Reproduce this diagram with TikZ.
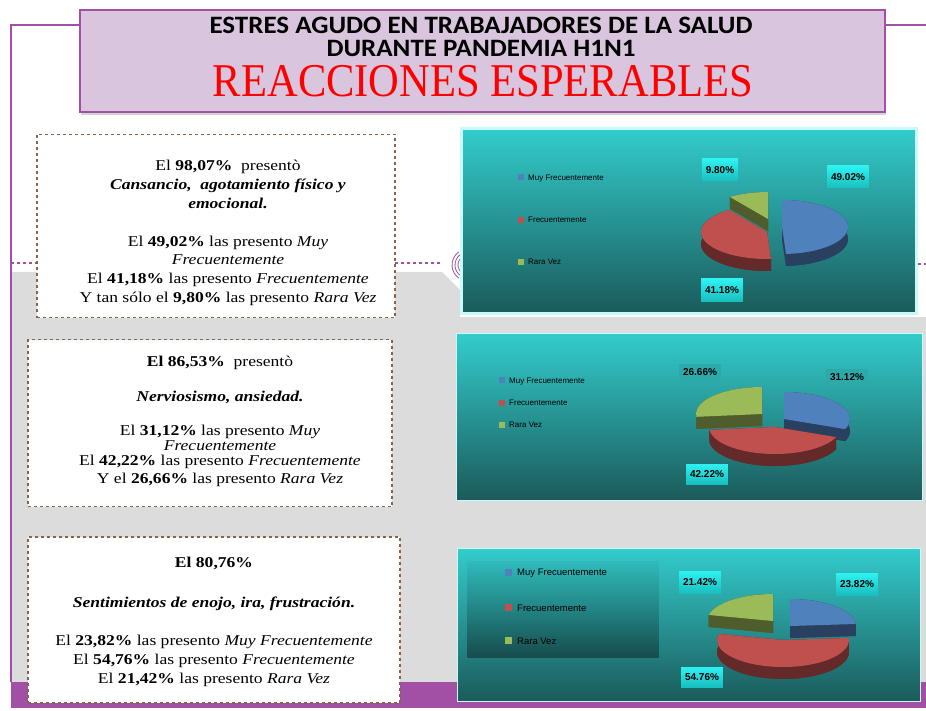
\documentclass[tikz,border=0pt]{standalone}
\usepackage{fontspec}
\setmainfont[FakeStretch=1.17]{Liberation Serif}
\newfontfamily\calibri[FakeStretch=1.08]{Carlito}
\newfontfamily\arial{Liberation Sans}
\newfontfamily\titulofont[FakeStretch=0.905]{Liberation Serif}
\usetikzlibrary{shapes,arrows,positioning,shadows}

\definecolor{morado}{HTML}{A24FA6}
\definecolor{lila}{HTML}{D9C5DD}
\definecolor{cafe}{HTML}{8A6446}
\definecolor{gris}{HTML}{DCDCDC}
\definecolor{turq}{HTML}{33CCCC}
\definecolor{turqosc}{HTML}{1B5A5A}
\definecolor{cianclaro}{HTML}{C8FAFA}
\definecolor{etiq}{HTML}{2EF2F2}
\definecolor{azul}{HTML}{4F81BD}
\definecolor{azulosc}{HTML}{2A4061}
\definecolor{rojo}{HTML}{C0504D}
\definecolor{rojoosc}{HTML}{642929}
\definecolor{verde}{HTML}{9BBB59}
\definecolor{verdeosc}{HTML}{4E5D2B}

\begin{document}
\begin{tikzpicture}[x=1pt,y=1pt]
	\tikzstyle{every node}=[font=\fontsize{15}{19}\selectfont]
	\tikzstyle{titlebox}=[draw=morado, line width=2pt, fill=lila, minimum width=805pt, minimum height=102pt, drop shadow={opacity=0.35, shadow xshift=1pt, shadow yshift=-3pt}]
	\tikzstyle{caja}=[draw=cafe, dashed, line width=1.2pt, fill=white]
	\tikzstyle{grafico}=[draw=cianclaro, line width=2pt, top color=turq, bottom color=turqosc, inner sep=0pt]
	\tikzstyle{leyenda}=[anchor=west, font=\arial\fontsize{8}{8}\selectfont, inner sep=0pt]
	\tikzstyle{etiqueta}=[top color=etiq, bottom color=etiq!55!teal, font=\arial\bfseries\fontsize{10}{10}\selectfont, minimum height=22pt, inner xsep=4pt]

	\useasboundingbox (0,0) rectangle (926,-711);
	% gray zone and the purple band down, that is the background of the slide
	\fill[gris] (12,-272) -- (442,-272) -- (460,-290) -- (460,-317) -- (926,-317) -- (926,-682) -- (12,-682) -- cycle;
	\fill[morado] (11,-682) rectangle (926,-708);
	\draw[morado, line width=2pt] (80,-25) -- (11,-25) -- (11,-682);
	\draw[morado, line width=2pt] (885,-25) -- (926,-25);
	\draw[morado, dashed, line width=1.5pt] (11,-263) -- (37,-263);
	\draw[morado, dashed, line width=1.5pt] (395,-263) -- (442,-263);
	\draw[morado, dashed, line width=1.5pt] (918,-264) -- (926,-264);
	\foreach \r in {10,13,16}
		\draw[morado, line width=0.8pt] (468,-265) ++(125:\r) arc[start angle=125, end angle=235, radius=\r pt];

	% title
	\node[titlebox] (titulo) at (482,-61) {};
	\node[font=\calibri\bfseries\fontsize{25}{25}\selectfont, anchor=base, text depth=0pt] (linea1) at (481,-34) {ESTRES AGUDO EN TRABAJADORES DE LA SALUD};
	\node[font=\calibri\bfseries\fontsize{25}{25}\selectfont, anchor=base, inner sep=1pt, text depth=0pt] (linea2) at (481,-57) {DURANTE PANDEMIA H1N1};
	\node[font=\titulofont\fontsize{47}{47}\selectfont, text=red, anchor=base, inner sep=0pt, text height=32pt] (reacciones) at (483,-97) {REACCIONES ESPERABLES};

	% the three boxes of text, dashed ones
	\node[caja, minimum width=358pt, minimum height=183pt] (caja1) at (216,-226) {};
	\node[align=center, xshift=12pt, yshift=-7pt] (texto1) at (caja1) {El \textbf{98,07\%}\ \ presentò\\
		\textbf{\textit{Cansancio,\ \ agotamiento físico y}}\\
		\textbf{\textit{emocional.}}\\[19pt]
		El \textbf{49,02\%} las presento \textit{Muy}\\[-1pt]
		\textit{Frecuentemente}\\
		El \textbf{41,18\%} las presento \textit{Frecuentemente}\\
		Y tan sólo el \textbf{9,80\%} las presento \textit{Rara Vez}};

	\node[caja, minimum width=364pt, minimum height=167pt] (caja2) at (210,-423) {};
	\node[align=center, xshift=10pt, yshift=2pt] (texto2) at (caja2) {\textbf{El 86,53\%}\ \ presentò\\[16pt]
		\textbf{\textit{Nerviosismo, ansiedad.}}\\[15pt]
		El \textbf{31,12\%} las presento \textit{Muy}\\[-4pt]
		\textit{Frecuentemente}\\[-4pt]
		El \textbf{42,22\%} las presento \textit{Frecuentemente}\\[-1pt]
		Y el \textbf{26,66\%} las presento \textit{Rara Vez}};

	\node[caja, minimum width=372pt, minimum height=166pt] (caja3) at (214,-620) {};
	\node[align=center, yshift=-2pt] (texto3) at (caja3) {\textbf{El 80,76\%}\\[21pt]
		\textbf{\textit{Sentimientos de enojo, ira, frustración.}}\\[19pt]
		El \textbf{23,82\%} las presento \textit{Muy Frecuentemente}\\
		El \textbf{54,76\%} las presento \textit{Frecuentemente}\\
		El \textbf{21,42\%} las presento \textit{Rara Vez}};

	% charts, the background with gradient
	\node[grafico, line width=3pt, minimum width=455pt, minimum height=185pt] (graf1) at (689,-221) {};
	\node[grafico, line width=1pt, minimum width=466pt, minimum height=167pt] (graf2) at (689,-417) {};
	\node[grafico, line width=1pt, minimum width=463pt, minimum height=153pt] (graf3) at (689,-625) {};
	\node[top color=turq!85!turqosc, bottom color=turqosc!85!black, minimum width=191pt, minimum height=96pt] (cuadro3) at (563,-609) {};

	% pie slices: center x / center y / start angle / end angle / top colour / side colour
	\foreach \cx/\cy/\ini/\fin/\cara/\lado in {
		768/219/90/125.3/verde/verdeosc, 782/227/-86.5/90/azul/azulosc, 767/232/125.3/273.5/rojo/rojoosc,
		762/414/90/186/verde/verdeosc, 784/419/-22/90/azul/azulosc, 775/427/186/338/rojo/rojoosc,
		773/621/90/167.1/verde/verdeosc, 790/626/4.3/90/azul/azulosc, 783/640/167.1/364.3/rojo/rojoosc}
	{
		\fill[\lado] (\cx,-\cy-12) -- ++(\ini:66pt and 27pt) arc[start angle=\ini, end angle=\fin, x radius=66pt, y radius=27pt] -- cycle;
		\fill[\lado] (\cx,-\cy) -- ++(\ini:66pt and 27pt) -- ++(0,-12) -- (\cx,-\cy-12) -- cycle;
		\fill[\lado] (\cx,-\cy) -- ++(\fin:66pt and 27pt) -- ++(0,-12) -- (\cx,-\cy-12) -- cycle;
		\fill[\lado] (\cx,-\cy) ++(\ini:66pt and 27pt) arc[start angle=\ini, end angle=\fin, x radius=66pt, y radius=27pt] -- ++(0,-12) arc[start angle=\fin, end angle=\ini, x radius=66pt, y radius=27pt] -- cycle;
		\fill[\cara] (\cx,-\cy) -- ++(\ini:66pt and 27pt) arc[start angle=\ini, end angle=\fin, x radius=66pt, y radius=27pt] -- cycle;
	}

	% legends
	\node[leyenda] (l1a) at (518,-178) {\textcolor{azul}{\rule{6pt}{6pt}}\hspace{4pt}Muy Frecuentemente};
	\node[leyenda] (l1r) at (518,-220) {\textcolor{rojo}{\rule{6pt}{6pt}}\hspace{4pt}Frecuentemente};
	\node[leyenda] (l1v) at (518,-262) {\textcolor{verde}{\rule{6pt}{6pt}}\hspace{4pt}Rara Vez};
	\node[leyenda] (l2a) at (499,-381) {\textcolor{azul}{\rule{6pt}{6pt}}\hspace{4pt}Muy Frecuentemente};
	\node[leyenda] (l2r) at (499,-403) {\textcolor{rojo}{\rule{6pt}{6pt}}\hspace{4pt}Frecuentemente};
	\node[leyenda] (l2v) at (499,-425) {\textcolor{verde}{\rule{6pt}{6pt}}\hspace{4pt}Rara Vez};
	\node[leyenda, font=\arial\fontsize{9.5}{9.5}\selectfont] (l3a) at (505,-573) {\textcolor{azul}{\rule{7pt}{7pt}}\hspace{5pt}Muy Frecuentemente};
	\node[leyenda, font=\arial\fontsize{9.5}{9.5}\selectfont] (l3r) at (505,-608) {\textcolor{rojo}{\rule{7pt}{7pt}}\hspace{5pt}Frecuentemente};
	\node[leyenda, font=\arial\fontsize{9.5}{9.5}\selectfont] (l3v) at (505,-641) {\textcolor{verde}{\rule{7pt}{7pt}}\hspace{5pt}Rara Vez};

	% percentages of the pies
	\node[etiqueta] (p1v) at (720,-170) {9.80\%};
	\node[etiqueta] (p1a) at (848,-177) {49.02\%};
	\node[etiqueta] (p1r) at (722,-290) {41.18\%};
	\node[etiqueta, top color=turq!70!turqosc, bottom color=turq!70!turqosc, minimum height=16pt] (p2v) at (700,-372) {26.66\%};
	\node[etiqueta, top color=turq!70!turqosc, bottom color=turq!70!turqosc, minimum height=16pt] (p2a) at (847,-377) {31.12\%};
	\node[etiqueta, minimum height=20pt] (p2r) at (707,-474) {42.22\%};
	\node[etiqueta] (p3v) at (700,-582) {21.42\%};
	\node[etiqueta] (p3a) at (857,-584) {23.82\%};
	\node[etiqueta, minimum height=20pt] (p3r) at (702,-677) {54.76\%};
\end{tikzpicture}
\end{document}
